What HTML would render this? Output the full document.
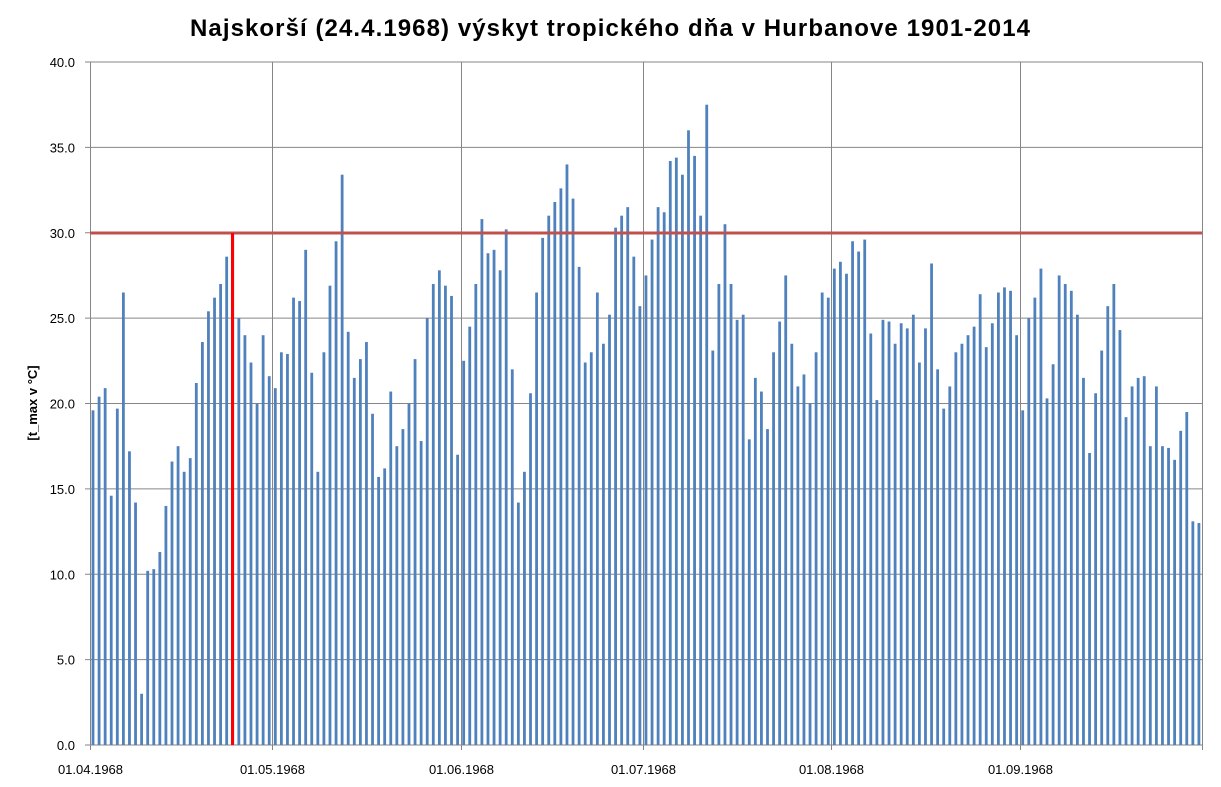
<!DOCTYPE html>
<html><head><meta charset="utf-8">
<style>
html,body{margin:0;padding:0;background:#fff;}
svg{display:block;font-family:"Liberation Sans",sans-serif;}
</style></head>
<body>
<svg id="s" width="1221" height="787" viewBox="0 0 1221 787" xmlns="http://www.w3.org/2000/svg">
<text x="610" y="36" text-anchor="middle" textLength="840" lengthAdjust="spacing" font-family="Liberation Sans, sans-serif" font-weight="bold" font-size="24" fill="#000">Najskorší (24.4.1968)  výskyt  tropického dňa v Hurbanove 1901-2014</text>
<text transform="translate(37,403) rotate(-90)" text-anchor="middle" font-weight="bold" font-size="13" fill="#000">[t_max v °C]</text>
<g id="grid"></g>
<g id="bars" fill="#4f81bd"></g>
<line x1="90" y1="233" x2="1202" y2="233" stroke="#c0504d" stroke-width="3"/>
<line x1="232.5" y1="233" x2="232.5" y2="745" stroke="#ff0000" stroke-width="3"/>
</svg>
<script>
var d=[19.6,20.4,20.9,14.6,19.7,26.5,17.2,14.2,3.0,10.2,10.3,11.3,14.0,16.6,17.5,16.0,16.8,21.2,23.6,25.4,26.2,27.0,28.6,30.0,25.0,24.0,22.4,20.0,24.0,21.6,
20.9,23.0,22.9,26.2,26.0,29.0,21.8,16.0,23.0,26.9,29.5,33.4,24.2,21.5,22.6,23.6,19.4,15.7,16.2,20.7,17.5,18.5,20.0,22.6,17.8,25.0,27.0,27.8,26.9,26.3,17.0,
22.5,24.5,27.0,30.8,28.8,29.0,27.8,30.2,22.0,14.2,16.0,20.6,26.5,29.7,31.0,31.8,32.6,34.0,32.0,28.0,22.4,23.0,26.5,23.5,25.2,30.3,31.0,31.5,28.6,25.7,
27.5,29.6,31.5,31.2,34.2,34.4,33.4,36.0,34.5,31.0,37.5,23.1,27.0,30.5,27.0,24.9,25.2,17.9,21.5,20.7,18.5,23.0,24.8,27.5,23.5,21.0,21.7,20.0,23.0,26.5,26.2,
27.9,28.3,27.6,29.5,28.9,29.6,24.1,20.2,24.9,24.8,23.5,24.7,24.4,25.2,22.4,24.4,28.2,22.0,19.7,21.0,23.0,23.5,24.0,24.5,26.4,23.3,24.7,26.5,26.8,26.6,24.0,
19.6,25.0,26.2,27.9,20.3,22.3,27.5,27.0,26.6,25.2,21.5,17.1,20.6,23.1,25.7,27.0,24.3,19.2,21.0,21.5,21.6,17.5,21.0,17.5,17.4,16.7,18.4,19.5,13.1,13.0];
var NS="http://www.w3.org/2000/svg";
function el(p,t,a,txt){var e=document.createElementNS(NS,t);for(var k in a)e.setAttribute(k,a[k]);if(txt!=null)e.textContent=txt;p.appendChild(e);return e;}
var x0=90,x1=1202,y0=745,sc=(745-62)/40,dw=(x1-x0)/183;
var g=document.getElementById('grid'),b=document.getElementById('bars');
for(var v=0;v<=40;v+=5){var y=y0-v*sc;
 el(g,'line',{x1:x0-5,y1:y,x2:x1,y2:y,stroke:'#868686','stroke-width':1});
 el(g,'text',{x:75,y:y+5,'text-anchor':'end','font-size':13,fill:'#000'},v.toFixed(1));}
var m=[[0,'01.04.1968'],[30,'01.05.1968'],[61,'01.06.1968'],[91,'01.07.1968'],[122,'01.08.1968'],[153,'01.09.1968'],[183,null]];
m.forEach(function(q){var x=Math.round(x0+q[0]*dw)+0.5;
 el(g,'line',{x1:x,y1:62,x2:x,y2:y0+5,stroke:'#868686','stroke-width':1});
 if(q[1])el(g,'text',{x:x,y:774,'text-anchor':'middle','font-size':13,fill:'#000'},q[1]);});
d.forEach(function(v,i){var h=v*sc;el(b,'rect',{x:(x0+i*dw+1.6).toFixed(2),y:(y0-h).toFixed(2),width:2.8,height:h.toFixed(2)});});
</script>
</body></html>
